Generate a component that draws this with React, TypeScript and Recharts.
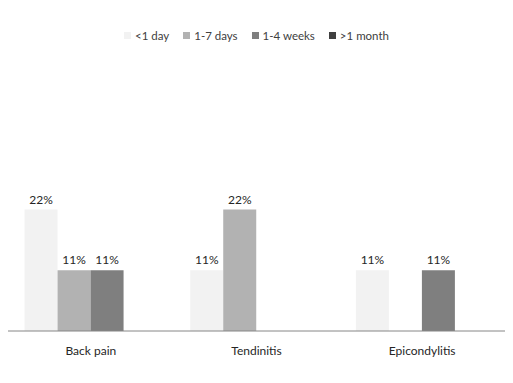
import { BarChart, Bar, XAxis, YAxis, Legend, LabelList } from 'recharts';

const categories = ['Back pain', 'Tendinitis', 'Epicondylitis'];
const seriesNames = ['<1 day', '1-7 days', '1-4 weeks', '>1 month'];
const lessThanDay = [22, 11, 11];
const oneToSevenDays = [11, 22, 0];
const oneToFourWeeks = [11, 0, 11];
const overMonth = [0, 0, 0];
const colors = ['#f2f2f2', '#b2b2b2', '#7f7f7f', '#404040'];

const seriesValues = [lessThanDay, oneToSevenDays, oneToFourWeeks, overMonth];
const data = categories.map((name, i) => {
  const row: Record<string, any> = { name };
  seriesNames.forEach((s, j) => { row[s] = seriesValues[j][i]; });
  return row;
});

const font = 'Lato, "Open Sans", sans-serif';

const renderLabel = (props: any) => {
  const { x, y, width, value } = props;
  if (!value) return null;
  return (
    <text x={x + width / 2} y={y - 6} textAnchor="middle" fontSize={12} fill="#262626" fontFamily={font}>
      {value}%
    </text>
  );
};

const renderLegend = () => (
  <div style={{ display: 'flex', justifyContent: 'center', alignItems: 'center', gap: 14, height: 14, fontFamily: font, fontSize: 11.5, color: '#404040' }}>
    {seriesNames.map((s, i) => (
      <div key={s} style={{ display: 'flex', alignItems: 'center' }}>
        <span style={{ display: 'inline-block', width: 7, height: 7, background: colors[i], marginRight: 4 }} />
        <span>{s}</span>
      </div>
    ))}
  </div>
);

export default function App() {
  return (
    <div style={{ position: 'absolute', left: 0, top: 0, width: 513, height: 383, background: '#fff' }}>
      <BarChart width={513} height={383} data={data} margin={{ top: 179, right: 8, bottom: 22, left: 8 }} barCategoryGap="10%" barGap={0}>
        <XAxis dataKey="name" axisLine={{ stroke: '#868686' }} tickLine={false} height={30} tickMargin={9}
          tick={{ fontSize: 12, fill: '#262626', fontFamily: font }} />
        <YAxis hide domain={[0, 25]} />
        <Legend verticalAlign="top" height={14} content={renderLegend} wrapperStyle={{ top: 28, left: 0, width: 513 }} />
        {seriesNames.map((s, i) => (
          <Bar key={s} dataKey={s} fill={colors[i]} isAnimationActive={false}>
            <LabelList dataKey={s} content={renderLabel} />
          </Bar>
        ))}
      </BarChart>
    </div>
  );
}
